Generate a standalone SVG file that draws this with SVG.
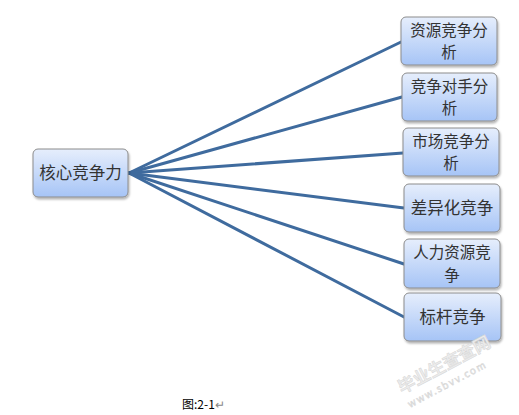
<svg xmlns="http://www.w3.org/2000/svg" width="519" height="415" viewBox="0 0 519 415">
<defs>
<linearGradient id="g" x1="0" y1="0" x2="0" y2="1">
<stop offset="0" stop-color="#e6eefc"/>
<stop offset="1" stop-color="#a6c4f6"/>
</linearGradient>
<filter id="sh" x="-10%" y="-10%" width="130%" height="140%">
<feDropShadow dx="1" dy="2" stdDeviation="1.2" flood-color="#000" flood-opacity="0.3"/>
</filter>
<style>
.box{fill:url(#g);stroke:#8c8c8c;stroke-width:1;filter:url(#sh)}
.t{font-family:"Noto Sans CJK SC","Liberation Serif",serif;font-size:16.5px;fill:#333;text-anchor:middle}
.t2{font-size:15.5px}
.c{stroke:#3f6b9e;stroke-width:3;fill:none;stroke-linecap:round}
.wm{font-family:"Noto Sans CJK SC","Liberation Sans",sans-serif;fill:#ececec;stroke:#d6d6d6;stroke-width:0.5}
</style>
</defs>
<rect width="519" height="415" fill="#fff"/>
<g id="connectors">
<line class="c" x1="129" y1="173" x2="401" y2="42"/>
<line class="c" x1="129" y1="173" x2="402" y2="97"/>
<line class="c" x1="129" y1="173" x2="403" y2="153"/>
<line class="c" x1="129" y1="173" x2="404" y2="208"/>
<line class="c" x1="129" y1="173" x2="404" y2="264"/>
<line class="c" x1="129" y1="173" x2="404" y2="317"/>
</g>
<g id="core">
<rect class="box" x="33" y="149" width="95" height="48" rx="5"/>
<text class="t" x="80.5" y="179">核心竞争力</text>
</g>
<g id="n1">
<rect class="box" x="401" y="17" width="96" height="48" rx="5"/>
<text class="t t2" x="449" y="35.5">资源竞争分</text>
<text class="t t2" x="449" y="58">析</text>
</g>
<g id="n2">
<rect class="box" x="402" y="73" width="95" height="48" rx="5"/>
<text class="t t2" x="449.5" y="91.5">竞争对手分</text>
<text class="t t2" x="449.5" y="114">析</text>
</g>
<g id="n3">
<rect class="box" x="403" y="128" width="96" height="48" rx="5"/>
<text class="t t2" x="451" y="146.5">市场竞争分</text>
<text class="t t2" x="451" y="169">析</text>
</g>
<g id="n4">
<rect class="box" x="404" y="184" width="96" height="48" rx="5"/>
<text class="t" x="452" y="214">差异化竞争</text>
</g>
<g id="n5">
<rect class="box" x="404" y="239" width="96" height="49" rx="5"/>
<text class="t t2" x="452" y="258">人力资源竞</text>
<text class="t t2" x="452" y="280.5">争</text>
</g>
<g id="n6">
<rect class="box" x="404" y="293" width="97" height="48" rx="5"/>
<text class="t" x="452.5" y="323">标杆竞争</text>
</g>
<g id="watermark">
<text class="wm" font-size="17" font-weight="bold" transform="translate(402,394) rotate(-28)">毕业生查查网</text>
<text class="wm" font-size="10" transform="translate(410,408) rotate(-28)" letter-spacing="1.5">www.sbvv.com</text>
</g>
<text x="182" y="409" font-family="'Noto Sans CJK SC','Liberation Sans',sans-serif" font-size="12" fill="#000">图:2-1<tspan fill="#888">↵</tspan></text>
</svg>
